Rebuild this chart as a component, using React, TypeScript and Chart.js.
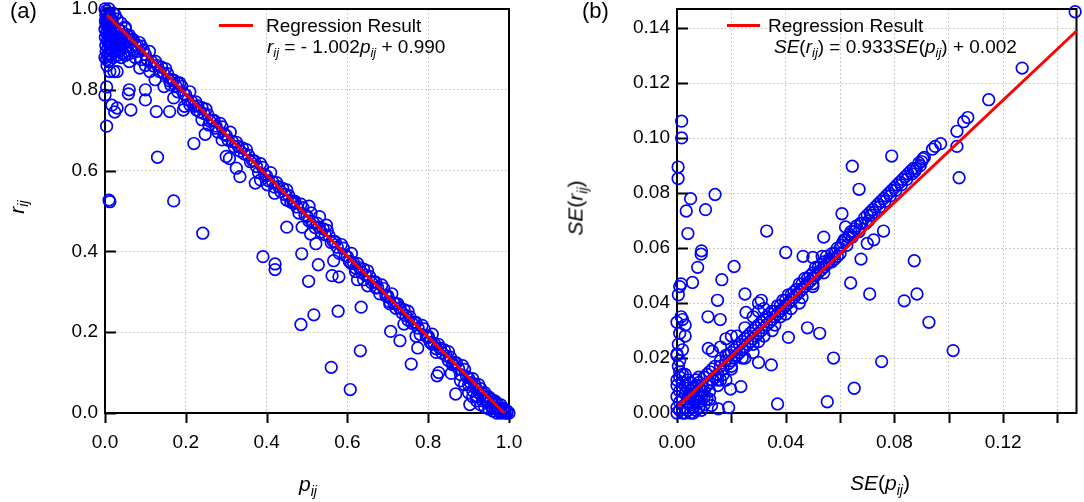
import React, { useEffect, useRef } from 'react';
import { Chart, registerables } from 'chart.js';

Chart.register(...registerables);

const FONT = '"Liberation Sans", Arial, Helvetica, sans-serif';

// ---------- Panel (a): r_ij vs p_ij ----------
const aTickValues = [0, 0.2, 0.4, 0.6, 0.8, 1.0];
const aTickLabels = ['0.0', '0.2', '0.4', '0.6', '0.8', '1.0'];

const aTopBlob: [number, number][] = [
  [0, 1], [0.003, 0.995], [0.006, 0.99], [0.002, 0.985], [0.008, 0.98], [0.004, 0.975], [0.012, 0.985],
  [0.001, 0.97], [0.01, 0.965], [0.015, 0.975], [0.003, 0.96], [0.007, 0.955], [0.018, 0.965], [0, 0.95],
  [0.012, 0.945], [0.022, 0.955], [0.004, 0.94], [0.009, 0.935], [0.025, 0.945], [0.001, 0.93], [0.015, 0.93],
  [0.006, 0.92], [0.02, 0.925], [0.03, 0.94], [0.011, 0.915], [0.002, 0.91], [0.028, 0.92], [0.017, 0.91],
  [0.035, 0.93], [0.008, 0.905], [0.04, 0.925], [0.024, 0.905], [0.032, 0.91], [0.045, 0.915], [0.003, 0.895],
  [0.014, 0.9], [0.05, 0.905], [0.038, 0.9], [0, 0.88], [0.004, 0.875], [0.01, 0.87], [0.02, 0.88], [0.03, 0.885],
  [0.045, 0.89], [0.02, 0.99], [0.03, 0.975], [0.04, 0.965], [0.05, 0.955], [0.01, 1.0], [0.025, 0.985],
  [0.005, 0.965], [0.013, 0.955], [0.016, 0.94], [0.021, 0.935], [0.027, 0.93], [0.033, 0.95], [0.036, 0.915],
  [0.042, 0.945], [0.048, 0.93], [0.055, 0.92], [0.06, 0.935], [0.065, 0.905], [0.07, 0.9], [0.08, 0.91],
  [0.009, 0.89], [0.018, 0.895], [0.026, 0.895], [0.007, 0.885], [0.015, 0.885], [0.035, 0.895], [0.04, 0.88],
  [0.05, 0.885], [0.06, 0.89], [0.075, 0.88], [0.09, 0.875], [0.1, 0.86],
];

const aBand: [number, number][] = [
  [0.05, 0.952], [0.06, 0.922], [0.07, 0.924], [0.08, 0.895], [0.09, 0.908], [0.10, 0.887], [0.11, 0.895],
  [0.12, 0.859], [0.13, 0.860], [0.14, 0.856], [0.15, 0.852], [0.16, 0.822], [0.17, 0.824], [0.18, 0.795],
  [0.19, 0.808], [0.20, 0.787], [0.21, 0.795], [0.22, 0.759], [0.23, 0.760], [0.24, 0.756], [0.25, 0.752],
  [0.26, 0.722], [0.27, 0.724], [0.28, 0.695], [0.29, 0.708], [0.30, 0.687], [0.31, 0.695], [0.32, 0.659],
  [0.33, 0.660], [0.34, 0.656], [0.35, 0.652], [0.36, 0.622], [0.37, 0.624], [0.38, 0.595], [0.39, 0.608],
  [0.40, 0.587], [0.41, 0.595], [0.42, 0.559], [0.43, 0.560], [0.44, 0.556], [0.45, 0.552], [0.46, 0.522],
  [0.47, 0.524], [0.48, 0.495], [0.49, 0.508], [0.50, 0.487], [0.51, 0.495], [0.52, 0.459], [0.53, 0.460],
  [0.54, 0.456], [0.55, 0.452], [0.56, 0.422], [0.57, 0.424], [0.58, 0.395], [0.59, 0.408], [0.60, 0.387],
  [0.61, 0.395], [0.62, 0.359], [0.63, 0.360], [0.64, 0.356], [0.65, 0.352], [0.66, 0.322], [0.67, 0.324],
  [0.68, 0.295], [0.69, 0.308], [0.70, 0.287], [0.71, 0.295], [0.72, 0.259], [0.73, 0.260], [0.74, 0.256],
  [0.75, 0.252], [0.76, 0.222], [0.77, 0.224], [0.78, 0.195], [0.79, 0.208], [0.80, 0.187], [0.81, 0.195],
  [0.82, 0.159], [0.83, 0.160], [0.84, 0.156], [0.85, 0.152], [0.86, 0.122], [0.87, 0.124], [0.88, 0.095],
  [0.89, 0.108], [0.90, 0.087], [0.91, 0.085], [0.92, 0.059], [0.93, 0.060], [0.94, 0.050], [0.95, 0.040],
  [0.96, 0.022], [0.97, 0.024], [0.98, 0.005], [0.99, 0.008],
  [0.055, 0.935], [0.075, 0.91], [0.095, 0.898], [0.115, 0.87], [0.135, 0.845], [0.155, 0.84], [0.175, 0.81],
  [0.195, 0.79], [0.215, 0.77], [0.235, 0.745], [0.255, 0.738], [0.275, 0.71], [0.295, 0.69], [0.315, 0.672],
  [0.335, 0.648], [0.355, 0.638], [0.375, 0.61], [0.395, 0.59], [0.415, 0.572], [0.435, 0.548], [0.455, 0.538],
  [0.475, 0.51], [0.495, 0.49], [0.515, 0.472], [0.535, 0.448], [0.555, 0.438], [0.575, 0.41], [0.595, 0.39],
  [0.615, 0.372], [0.635, 0.348], [0.655, 0.338], [0.675, 0.31], [0.695, 0.29], [0.715, 0.272], [0.735, 0.248],
  [0.755, 0.238], [0.775, 0.21], [0.795, 0.19], [0.815, 0.172], [0.835, 0.148], [0.855, 0.138], [0.875, 0.11],
  [0.895, 0.09], [0.915, 0.072], [0.935, 0.048], [0.955, 0.035], [0.975, 0.012], [0.995, 0.0],
  [0.065, 0.925], [0.085, 0.917], [0.105, 0.875], [0.125, 0.87], [0.145, 0.841], [0.165, 0.825], [0.185, 0.817],
  [0.205, 0.775], [0.225, 0.77], [0.245, 0.741], [0.265, 0.725], [0.285, 0.717], [0.305, 0.675], [0.325, 0.67],
  [0.345, 0.641], [0.365, 0.625], [0.385, 0.617], [0.405, 0.575], [0.425, 0.57], [0.445, 0.541], [0.465, 0.525],
  [0.485, 0.517], [0.505, 0.475], [0.525, 0.47], [0.545, 0.441], [0.565, 0.425], [0.585, 0.417], [0.605, 0.375],
  [0.625, 0.37], [0.645, 0.341], [0.665, 0.325], [0.685, 0.317], [0.705, 0.275], [0.725, 0.27], [0.745, 0.241],
  [0.765, 0.225], [0.785, 0.217], [0.805, 0.175], [0.825, 0.17], [0.845, 0.141], [0.865, 0.125], [0.885, 0.117],
  [0.905, 0.075], [0.925, 0.07], [0.945, 0.041], [0.965, 0.025], [0.985, 0.01],
];

const aBottomBlob: [number, number][] = [
  [1.0, 0.0], [0.995, 0.005], [0.99, 0.0], [0.985, 0.012], [0.98, 0.02], [0.975, 0.005], [0.97, 0.01],
  [0.965, 0.03], [0.96, 0.012], [0.955, 0.018], [0.95, 0.025], [0.945, 0.03], [0.94, 0.04], [0.935, 0.03],
  [0.93, 0.045], [0.925, 0.05], [0.92, 0.04], [0.91, 0.055], [0.9, 0.07], [0.97, 0.0], [0.98, 0.0],
  [0.96, 0.005], [0.95, 0.01], [0.94, 0.015],
];

const aBelowBand: [number, number][] = [
  [0.06, 0.87], [0.086, 0.854], [0.111, 0.845], [0.124, 0.825], [0.146, 0.808], [0.163, 0.812], [0.18, 0.817],
  [0.197, 0.759], [0.21, 0.763], [0.227, 0.75], [0.24, 0.726], [0.257, 0.713], [0.274, 0.705], [0.29, 0.676],
  [0.3, 0.635], [0.308, 0.63], [0.325, 0.606], [0.334, 0.585], [0.372, 0.569], [0.385, 0.577], [0.402, 0.565],
  [0.42, 0.544], [0.45, 0.527], [0.467, 0.519], [0.45, 0.46], [0.488, 0.46], [0.509, 0.443], [0.522, 0.419],
  [0.505, 0.512], [0.531, 0.486], [0.548, 0.465],
  [0.61, 0.37], [0.62, 0.35], [0.625, 0.33], [0.64, 0.33], [0.65, 0.315], [0.67, 0.31], [0.7, 0.29],
  [0.705, 0.27], [0.72, 0.27], [0.74, 0.22], [0.75, 0.23], [0.77, 0.19], [0.8, 0.19], [0.81, 0.17],
  [0.82, 0.15], [0.83, 0.16], [0.85, 0.13], [0.86, 0.12], [0.88, 0.08], [0.89, 0.07], [0.9, 0.05],
  [0.91, 0.04], [0.92, 0.03], [0.93, 0.02],
];

const aOutliers: [number, number][] = [
  [0.005, 0.86], [0.012, 0.845], [0.022, 0.845], [0.03, 0.845], [0.004, 0.807], [0, 0.787], [0.017, 0.762],
  [0.03, 0.755], [0.024, 0.745], [0.004, 0.71], [0.06, 0.8], [0.058, 0.79], [0.1, 0.8], [0.1, 0.775],
  [0.064, 0.75], [0.127, 0.746], [0.16, 0.746], [0.194, 0.75], [0.17, 0.78], [0.248, 0.69], [0.22, 0.667],
  [0.13, 0.633], [0.01, 0.527], [0.012, 0.523], [0.17, 0.525], [0.242, 0.445],
  [0.391, 0.387], [0.421, 0.369], [0.421, 0.355], [0.487, 0.394], [0.528, 0.367], [0.566, 0.377],
  [0.562, 0.34], [0.579, 0.337], [0.504, 0.326], [0.485, 0.219], [0.517, 0.243], [0.577, 0.252],
  [0.634, 0.262], [0.632, 0.154], [0.56, 0.113], [0.607, 0.058], [0.707, 0.202], [0.73, 0.179],
  [0.774, 0.161], [0.758, 0.121], [0.822, 0.092], [0.826, 0.1], [0.868, 0.047], [0.903, 0.021], [0.857, 0.098],
];

const aFitP = [0.005, 0.988];
const aFitR = [0.985, 0.0];

// ---------- Panel (b): SE(r_ij) vs SE(p_ij) ----------
const bTickValues = [0, 0.02, 0.04, 0.06, 0.08, 0.10, 0.12, 0.14];
const bTickLabelsX = ['0.00', '', '0.04', '', '0.08', '', '0.12', ''];
const bTickLabelsY = ['0.00', '0.02', '0.04', '0.06', '0.08', '0.10', '0.12', '0.14'];

const bOriginBlob: [number, number][] = [
  [0, 0], [0.001, 0.001], [0.002, 0.0], [0.0, 0.002], [0.003, 0.002], [0.001, 0.004], [0.004, 0.001],
  [0.0, 0.006], [0.002, 0.005], [0.005, 0.003], [0.003, 0.007], [0.001, 0.008], [0.006, 0.005], [0.0, 0.01],
  [0.004, 0.009], [0.002, 0.011], [0.007, 0.007], [0.005, 0.011], [0.001, 0.013], [0.003, 0.014],
  [0.006, 0.0], [0.008, 0.002], [0.007, 0.01], [0.009, 0.006], [0.0, 0.012], [0.004, 0.004], [0.002, 0.008],
  [0.005, 0.0], [0.003, 0.0], [0.001, 0.015],
  [0.006, 0.002], [0.008, 0.006], [0.005, 0.006], [0.003, 0.01], [0.006, 0.009], [0.008, 0.013], [0.004, 0.012],
  [0.002, 0.014], [0.010, 0.003], [0.011, 0.005], [0.009, 0.001], [0.007, 0.001], [0.0045, 0.0065],
  [0.0005, 0.017], [0.001, 0.019], [0.0, 0.021], [0.002, 0.023], [0.0005, 0.025], [0.003, 0.028],
  [0.001, 0.029], [0.0, 0.033], [0.002, 0.034], [0.0015, 0.035], [0.003, 0.032], [0.0005, 0.043],
  [0.001, 0.046], [0.0015, 0.047], [0.0, 0.0215],
];

const bBand: [number, number][] = [
  [0.006, 0.009], [0.008, 0.011], [0.009, 0.008], [0.010, 0.013], [0.011, 0.010], [0.012, 0.015], [0.013, 0.012],
  [0.014, 0.017], [0.015, 0.014], [0.016, 0.019], [0.017, 0.016], [0.018, 0.021], [0.019, 0.018], [0.020, 0.022],
  [0.021, 0.020], [0.022, 0.024], [0.023, 0.022], [0.024, 0.026], [0.025, 0.024], [0.026, 0.028], [0.027, 0.026],
  [0.028, 0.030], [0.029, 0.028], [0.030, 0.032], [0.031, 0.030], [0.032, 0.034], [0.033, 0.032], [0.034, 0.036],
  [0.035, 0.034], [0.036, 0.037], [0.037, 0.036], [0.038, 0.039], [0.039, 0.038], [0.040, 0.041], [0.041, 0.040],
  [0.042, 0.043], [0.043, 0.042], [0.044, 0.045], [0.045, 0.044], [0.046, 0.047], [0.047, 0.046], [0.048, 0.049],
  [0.049, 0.048], [0.050, 0.051], [0.051, 0.050], [0.052, 0.053], [0.053, 0.052], [0.054, 0.055], [0.055, 0.054],
  [0.056, 0.056], [0.057, 0.055], [0.058, 0.058], [0.059, 0.057], [0.060, 0.060],
  [0.004, 0.004], [0.005, 0.008], [0.007, 0.005], [0.007, 0.012], [0.009, 0.010], [0.010, 0.008], [0.011, 0.014],
  [0.012, 0.011], [0.013, 0.016], [0.014, 0.013], [0.015, 0.012], [0.016, 0.017], [0.017, 0.014], [0.018, 0.019],
  [0.019, 0.021], [0.020, 0.019], [0.021, 0.023], [0.022, 0.021], [0.023, 0.025], [0.024, 0.023], [0.025, 0.027],
  [0.026, 0.025], [0.027, 0.029], [0.028, 0.027], [0.029, 0.031], [0.030, 0.029], [0.031, 0.033], [0.032, 0.031],
  [0.033, 0.035], [0.034, 0.033], [0.035, 0.037], [0.036, 0.035], [0.037, 0.039], [0.038, 0.037], [0.039, 0.041],
  [0.040, 0.039], [0.041, 0.043], [0.042, 0.041], [0.043, 0.044], [0.044, 0.043], [0.045, 0.047], [0.046, 0.045],
  [0.047, 0.049], [0.048, 0.047], [0.049, 0.050], [0.050, 0.049], [0.051, 0.053], [0.052, 0.051], [0.053, 0.054],
  [0.054, 0.053], [0.055, 0.057], [0.056, 0.055], [0.057, 0.058], [0.058, 0.056], [0.059, 0.06], [0.060, 0.058],
  [0.0605, 0.061],
  [0.008, 0.004], [0.012, 0.008], [0.016, 0.012], [0.02, 0.017], [0.024, 0.02], [0.028, 0.025], [0.032, 0.028],
  [0.036, 0.032], [0.038, 0.035], [0.042, 0.038], [0.046, 0.042], [0.05, 0.047], [0.054, 0.051],
  [0.01, 0.006], [0.015, 0.01], [0.02, 0.016], [0.025, 0.02], [0.03, 0.026], [0.035, 0.03], [0.04, 0.036],
  [0.045, 0.04], [0.05, 0.046], [0.012, 0.005], [0.018, 0.012], [0.028, 0.022],
  [0.0115, 0.0235], [0.013, 0.0225], [0.016, 0.024], [0.018, 0.027], [0.02, 0.028], [0.022, 0.028],
  [0.025, 0.031], [0.028, 0.035], [0.03, 0.037], [0.032, 0.038],
  [0.061, 0.062], [0.062, 0.063], [0.063, 0.064], [0.064, 0.066], [0.065, 0.066], [0.066, 0.068], [0.068, 0.069],
  [0.069, 0.071], [0.07, 0.072], [0.071, 0.073], [0.072, 0.074], [0.073, 0.075], [0.074, 0.076], [0.075, 0.077],
  [0.076, 0.078], [0.077, 0.079], [0.078, 0.08], [0.079, 0.081], [0.08, 0.082], [0.081, 0.083], [0.082, 0.084],
  [0.083, 0.085], [0.084, 0.086], [0.085, 0.087], [0.086, 0.088], [0.087, 0.089], [0.088, 0.089], [0.089, 0.091],
  [0.09, 0.0915], [0.091, 0.093], [0.094, 0.096], [0.095, 0.097], [0.097, 0.098], [0.103, 0.1025], [0.103, 0.097],
  [0.1055, 0.106], [0.107, 0.1075], [0.1147, 0.114], [0.127, 0.1255], [0.1465, 0.146],
  [0.0615, 0.063], [0.0625, 0.061], [0.0635, 0.065], [0.0645, 0.064], [0.0655, 0.067], [0.067, 0.066],
  [0.0675, 0.069], [0.0695, 0.069], [0.0705, 0.07], [0.0715, 0.072], [0.0725, 0.073], [0.0745, 0.075],
  [0.0765, 0.077], [0.0785, 0.079], [0.0805, 0.081], [0.0825, 0.083], [0.0845, 0.085], [0.0865, 0.087],
  [0.0875, 0.088], [0.0895, 0.09], [0.0905, 0.0925],
];

const bOutliers: [number, number][] = [
  [0.0017, 0.1062], [0.0017, 0.1001], [0.0004, 0.0895], [0.0004, 0.0853], [0.005, 0.078], [0.0034, 0.0735],
  [0.0105, 0.074], [0.014, 0.0795], [0.004, 0.0653], [0.009, 0.059], [0.0089, 0.0578], [0.0076, 0.053],
  [0.0057, 0.0475], [0.021, 0.0533], [0.0165, 0.0485], [0.025, 0.0433], [0.0149, 0.041], [0.0114, 0.035],
  [0.0159, 0.034], [0.0254, 0.0366], [0.031, 0.041], [0.03, 0.04], [0.048, 0.031], [0.0525, 0.029],
  [0.041, 0.0275], [0.03, 0.0184], [0.0347, 0.0175], [0.0197, 0.0087], [0.0235, 0.0096], [0.019, 0.002],
  [0.0152, 0.0015], [0.0127, 0.0027], [0.037, 0.0033], [0.0553, 0.0041], [0.0652, 0.009], [0.0576, 0.02],
  [0.0753, 0.0187], [0.0639, 0.0473], [0.0709, 0.0433], [0.0836, 0.0408], [0.0883, 0.0433], [0.0873, 0.0554],
  [0.0677, 0.056], [0.0927, 0.033], [0.1016, 0.0227], [0.04, 0.0584], [0.0464, 0.057], [0.05, 0.0566],
  [0.0534, 0.057], [0.0645, 0.0898], [0.067, 0.0814], [0.0607, 0.0725], [0.062, 0.0677], [0.076, 0.0662],
  [0.0724, 0.063], [0.07, 0.0617], [0.054, 0.064], [0.033, 0.0662], [0.079, 0.0935], [0.1038, 0.0856],
];

const bFitX = [0.0005, 0.147];
const bFitY = [0.0025, 0.139];

// ---------- helpers ----------
const frameTicksPlugin = {
  id: 'frameTicks',
  beforeDatasetsDraw(chart: any) {
    const { ctx, chartArea: a, scales } = chart;
    const xs = scales.x;
    const ys = scales.y;
    ctx.save();
    ctx.setLineDash([]);
    ctx.strokeStyle = '#000';
    ctx.lineWidth = 2;
    ctx.strokeRect(a.left, a.top, a.right - a.left, a.bottom - a.top);
    ctx.beginPath();
    xs.ticks.forEach((t: any) => {
      const px = Math.round(xs.getPixelForValue(t.value)) + 0.5;
      ctx.moveTo(px, a.bottom);
      ctx.lineTo(px, a.bottom + 10);
    });
    ys.ticks.forEach((t: any) => {
      const py = Math.round(ys.getPixelForValue(t.value)) + 0.5;
      ctx.moveTo(a.left, py);
      ctx.lineTo(a.left + 11, py);
    });
    ctx.stroke();
    ctx.restore();
  },
};

type PanelCfg = {
  points: [number, number][];
  fitX: number[];
  fitY: number[];
  max: number;
  xVals: number[];
  xLabels: string[];
  yVals: number[];
  yLabels: string[];
  width: number;
  height: number;
  areaLeft: number;
  areaRight: number;
  areaTop: number;
  areaBottom: number;
};

function makeChart(canvas: HTMLCanvasElement, c: PanelCfg) {
  const pts = c.points.map(([x, y]) => ({ x, y }));
  const fit = c.fitX.map((x, i) => ({ x, y: c.fitY[i] }));
  const tickFont = { family: FONT, size: 19 };
  return new Chart(canvas, {
    type: 'scatter',
    data: {
      datasets: [
        {
          type: 'line',
          data: fit,
          borderColor: '#ff0000',
          borderWidth: 3,
          pointRadius: 0,
          fill: false,
          clip: false,
          order: 0,
        } as any,
        {
          data: pts,
          pointStyle: 'circle',
          pointRadius: 5.8,
          pointBorderWidth: 1.7,
          borderColor: '#0000ff',
          pointBorderColor: '#0000ff',
          backgroundColor: 'rgba(0,0,0,0)',
          pointBackgroundColor: 'rgba(0,0,0,0)',
          clip: false,
          order: 1,
        } as any,
      ],
    },
    options: {
      animation: false,
      responsive: false,
      devicePixelRatio: 1,
      events: [],
      layout: { padding: { left: 0, top: c.areaTop, right: c.width - c.areaRight, bottom: 0 } },
      plugins: { legend: { display: false }, tooltip: { enabled: false }, title: { display: false } },
      scales: {
        x: {
          type: 'linear',
          min: 0,
          max: c.max,
          afterBuildTicks: (s: any) => {
            s.ticks = c.xVals.map((v) => ({ value: v }));
          },
          afterFit: (s: any) => {
            s.height = c.height - c.areaBottom;
            s.paddingLeft = 0;
            s.paddingRight = 0;
          },
          grid: { color: '#cccccc', lineWidth: 1, drawTicks: false },
          border: { display: false, dash: [2, 2] },
          ticks: {
            callback: (_v: any, i: number) => c.xLabels[i],
            font: tickFont,
            color: '#000',
            padding: 18,
            maxRotation: 0,
            autoSkip: false,
          },
        },
        y: {
          type: 'linear',
          min: 0,
          max: c.max,
          afterBuildTicks: (s: any) => {
            s.ticks = c.yVals.map((v) => ({ value: v }));
          },
          afterFit: (s: any) => {
            s.width = c.areaLeft;
            s.paddingTop = 0;
            s.paddingBottom = 0;
          },
          grid: { color: '#cccccc', lineWidth: 1, drawTicks: false },
          border: { display: false, dash: [2, 2] },
          ticks: {
            callback: (_v: any, i: number) => c.yLabels[i],
            font: tickFont,
            color: '#000',
            padding: 7,
            autoSkip: false,
          },
        },
      },
    } as any,
    plugins: [frameTicksPlugin],
  });
}

const Sub = ({ children }: { children: React.ReactNode }) => (
  <span style={{ fontSize: '0.68em', verticalAlign: '-0.32em', lineHeight: 0 }}>{children}</span>
);

const base: React.CSSProperties = {
  position: 'absolute',
  fontFamily: FONT,
  color: '#000',
  lineHeight: 1,
  whiteSpace: 'nowrap',
  zIndex: 2,
};

export default function App() {
  const refA = useRef<HTMLCanvasElement>(null);
  const refB = useRef<HTMLCanvasElement>(null);

  useEffect(() => {
    const chartA = makeChart(refA.current!, {
      points: [...aTopBlob, ...aBand, ...aBottomBlob, ...aBelowBand, ...aOutliers],
      fitX: aFitP,
      fitY: aFitR,
      max: 1,
      xVals: aTickValues,
      xLabels: aTickLabels,
      yVals: aTickValues,
      yLabels: aTickLabels,
      width: 540,
      height: 502,
      areaLeft: 105,
      areaRight: 509,
      areaTop: 9,
      areaBottom: 413,
    });
    const chartB = makeChart(refB.current!, {
      points: [...bOriginBlob, ...bBand, ...bOutliers],
      fitX: bFitX,
      fitY: bFitY,
      max: 0.147,
      xVals: bTickValues,
      xLabels: bTickLabelsX,
      yVals: bTickValues,
      yLabels: bTickLabelsY,
      width: 524,
      height: 502,
      areaLeft: 117,
      areaRight: 519,
      areaTop: 9,
      areaBottom: 413,
    });
    return () => {
      chartA.destroy();
      chartB.destroy();
    };
  }, []);

  return (
    <div style={{ position: 'absolute', left: 0, top: 0, width: 1084, height: 502, background: '#fff', overflow: 'hidden' }}>
      <canvas ref={refA} width={540} height={502} style={{ position: 'absolute', left: 0, top: 0, width: 540, height: 502 }} />
      <canvas ref={refB} width={524} height={502} style={{ position: 'absolute', left: 560, top: 0, width: 524, height: 502 }} />

      {/* panel labels */}
      <div style={{ ...base, left: 10, top: 0, fontSize: 22 }}>(a)</div>
      <div style={{ ...base, left: 582, top: 0, fontSize: 22 }}>(b)</div>

      {/* legend (a) */}
      <div style={{ position: 'absolute', left: 219, top: 24, width: 34, height: 3, background: '#ff0000', zIndex: 2 }} />
      <div style={{ ...base, left: 266, top: 16, fontSize: 19 }}>Regression Result</div>
      <div style={{ ...base, left: 267, top: 37, fontSize: 19 }}>
        <i>r<Sub>ij</Sub></i> = - 1.002<i>p<Sub>ij</Sub></i> + 0.990
      </div>

      {/* legend (b) */}
      <div style={{ position: 'absolute', left: 727, top: 24, width: 33, height: 3, background: '#ff0000', zIndex: 2 }} />
      <div style={{ ...base, left: 768, top: 16, fontSize: 19 }}>Regression Result</div>
      <div style={{ ...base, left: 774, top: 37, fontSize: 19 }}>
        <i>SE</i>(<i>r<Sub>ij</Sub></i>) = 0.933<i>SE</i>(<i>p<Sub>ij</Sub></i>) + 0.002
      </div>

      {/* axis titles */}
      <div style={{ ...base, left: 308, top: 473, fontSize: 21, transform: 'translateX(-50%)' }}>
        <i>p<Sub>ij</Sub></i>
      </div>
      <div style={{ ...base, left: 880, top: 472, fontSize: 21, transform: 'translateX(-50%)' }}>
        <i>SE</i>(<i>p<Sub>ij</Sub></i>)
      </div>
      <div style={{ ...base, left: 16, top: 207, fontSize: 21, transform: 'translate(-50%, -50%) rotate(-90deg)' }}>
        <i>r<Sub>ij</Sub></i>
      </div>
      <div style={{ ...base, left: 575, top: 208, fontSize: 21, transform: 'translate(-50%, -50%) rotate(-90deg)' }}>
        <i>SE</i>(<i>r<Sub>ij</Sub></i>)
      </div>
    </div>
  );
}
